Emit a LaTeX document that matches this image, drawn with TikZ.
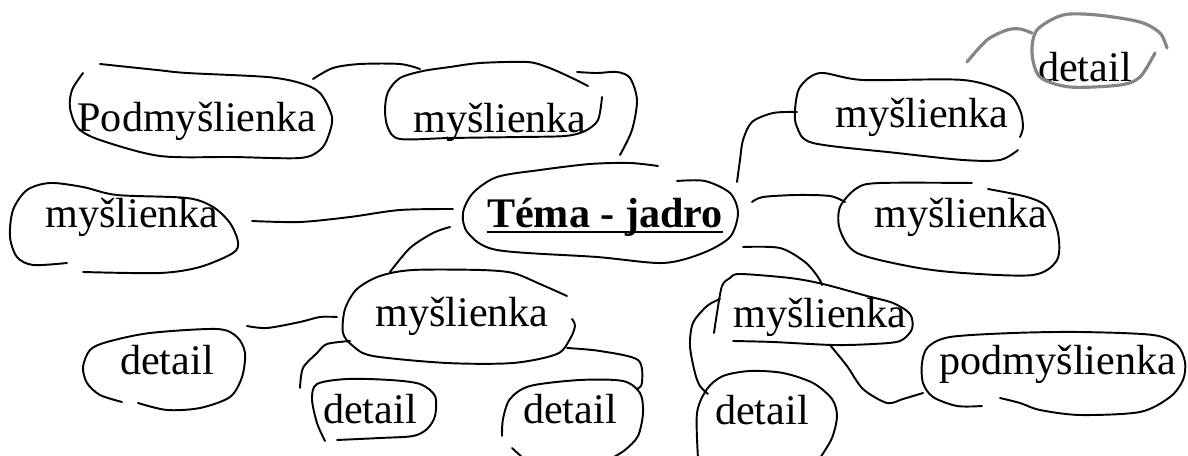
\documentclass[tikz,border=0pt]{standalone}
\usepackage{fontspec}
\setmainfont{Liberation Serif}
\begin{document}
\begin{tikzpicture}[x=0.02cm,y=-0.02cm,
	idea/.style={anchor=base,inner sep=0pt,font=\fontsize{24}{28}\selectfont},
	pen/.style={line width=1.1pt,line cap=round,line join=round},
	graypen/.style={line width=1.8pt,line cap=round,line join=round,color=black!48}]
	\useasboundingbox (0,0) rectangle (1188,456);
	\node[idea] (tema) at (605,228) {\textbf{Téma - jadro}};
	\draw[line width=1.2pt] ([yshift=-2.2pt]tema.base west) -- ([yshift=-2.2pt]tema.base east);
	\node[idea] (podm) at (197,132) {Podmyšlienka};
	\node[idea] (mysltop) at (500,133) {myšlienka};
	\node[idea] (myslleft) at (132,228) {myšlienka};
	\node[idea] (myslrtop) at (922,128) {myšlienka};
	\node[idea] (myslrmid) at (961,228) {myšlienka};
	\node[idea] (myslbl) at (462,326) {myšlienka};
	\node[idea] (myslbr) at (820,327) {myšlienka};
	\node[idea] (podmr) at (1058,375) {podmyšlienka};
	\node[idea] (detgray) at (1085,82) {detail};
	\node[idea] (detleft) at (167,375) {detail};
	\node[idea] (detsmall) at (370,423) {detail};
	\node[idea] (detmid) at (570,423) {detail};
	\node[idea] (detbot) at (762,424) {detail};
	% bubbles
	\draw[pen] plot[smooth] coordinates {(677,181) (705,181) (730,193) (738,213) (730,237) (703,253) (663,263) (597,257) (497,250) (468,233) (463,213) (473,193) (497,177) (540,170) (590,164) (630,163) (658,166)};
	\draw[pen] plot[smooth] coordinates {(83,73) (72,90) (70,108) (78,128) (100,140) (160,156) (233,157) (300,158) (320,150) (328,137) (332,117) (320,93) (300,83) (267,77) (187,73) (157,70) (100,64)};
	\draw[pen] plot[smooth] coordinates {(588,86) (570,77) (547,67) (527,62) (480,63) (450,67) (423,71) (400,78) (388,92) (385,110) (388,128) (400,139) (450,138) (520,137) (565,136) (585,131) (598,120) (602,97)};
	\draw[pen] plot[smooth] coordinates {(67,263) (33,265) (17,257) (10,237) (13,210) (27,190) (50,183) (83,187) (117,195) (187,198) (213,207) (230,223) (238,242) (233,253) (200,267) (160,273) (83,272)};
	\draw[pen] plot[smooth] coordinates {(1020,137) (1023,127) (1020,110) (1007,93) (963,80) (863,80) (820,73) (800,87) (795,110) (797,127) (813,143) (897,153) (963,160) (1000,160) (1018,150)};
	\draw[pen] plot[smooth] coordinates {(972,183) (880,183) (857,188) (840,207) (840,230) (857,253) (913,267) (963,273) (1033,275) (1057,260) (1058,233) (1047,207) (1027,197) (988,189)};
	\draw[pen] plot[smooth] coordinates {(567,296) (540,284) (513,273) (480,270) (413,270) (380,276) (357,289) (345,309) (343,333) (353,346) (373,356) (447,363) (513,363) (557,354) (570,339) (575,326) (572,319)};
	\draw[pen] plot[smooth] coordinates {(714,333) (717,313) (722,286) (730,278) (740,274) (790,278) (823,284) (867,296) (893,303) (910,314) (912,329) (900,341) (873,344) (833,345) (773,342) (733,341)};
	\draw[pen] plot[smooth] coordinates {(982,406) (957,406) (933,397) (923,383) (922,363) (928,347) (950,337) (1013,333) (1080,332) (1153,335) (1177,345) (1185,362) (1183,380) (1170,397) (1140,412) (1080,415) (1040,410) (1020,403) (1000,398)};
	\draw[pen] plot[smooth] coordinates {(122,402) (100,395) (87,383) (83,367) (90,350) (107,342) (150,333) (217,329) (237,337) (245,353) (242,377) (230,397) (200,408) (167,410) (138,403)};
	\draw[pen] plot[smooth] coordinates {(325,441) (317,423) (312,399) (317,384) (347,379) (390,380) (420,384) (435,396) (435,416) (427,429) (413,436) (380,438) (337,440)};
	\draw[pen] plot[smooth] coordinates {(502,436) (503,419) (510,399) (530,386) (580,380) (623,381) (640,393) (643,413) (638,436) (625,450) (612,458)};
	\draw[pen] (512,448) -- (523,458);
	\draw[pen] plot[smooth] coordinates {(698,458) (697,413) (707,389) (723,376) (750,371) (783,373) (813,383) (832,399) (837,416) (832,438) (820,458)};
	\draw[graypen] plot[smooth] coordinates {(1155,53) (1140,77) (1120,85) (1070,87) (1040,77) (1032,53) (1037,30) (1063,15) (1097,15) (1140,22) (1160,33) (1167,48)};
	% connectors
	\draw[pen] plot[smooth] coordinates {(313,79) (333,68) (360,64) (400,64) (420,69)};
	\draw[pen] plot[smooth] coordinates {(577,72) (597,73) (617,72) (630,78) (637,100) (632,130) (620,155)};
	\draw[pen] plot[smooth] coordinates {(737,182) (740,160) (743,140) (752,122) (773,113) (797,112)};
	\draw[pen] plot[smooth] coordinates {(752,202) (763,197) (797,195) (830,196) (845,202)};
	\draw[pen] plot[smooth] coordinates {(252,221) (300,222) (350,217) (400,210) (453,209)};
	\draw[pen] plot[smooth] coordinates {(450,227) (433,233) (410,248) (390,272)};
	\draw[pen] plot[smooth] coordinates {(247,326) (267,328) (300,322) (320,317) (337,317)};
	\draw[pen] plot[smooth] coordinates {(350,341) (327,344) (317,353) (303,368) (300,388)};
	\draw[pen] plot[smooth] coordinates {(567,348) (600,351) (638,360) (642,383) (637,389)};
	\draw[pen] plot[smooth] coordinates {(743,247) (780,248) (805,262) (818,277) (822,285)};
	\draw[pen] plot[smooth] coordinates {(830,345) (847,366) (863,389) (887,403) (903,399) (923,393)};
	\draw[pen] plot[smooth] coordinates {(720,299) (707,306) (693,323) (690,346) (695,373) (700,386) (708,394)};
	\draw[graypen] plot[smooth] coordinates {(967,62) (987,40) (1007,30) (1020,29) (1032,33)};
\end{tikzpicture}
\end{document}
